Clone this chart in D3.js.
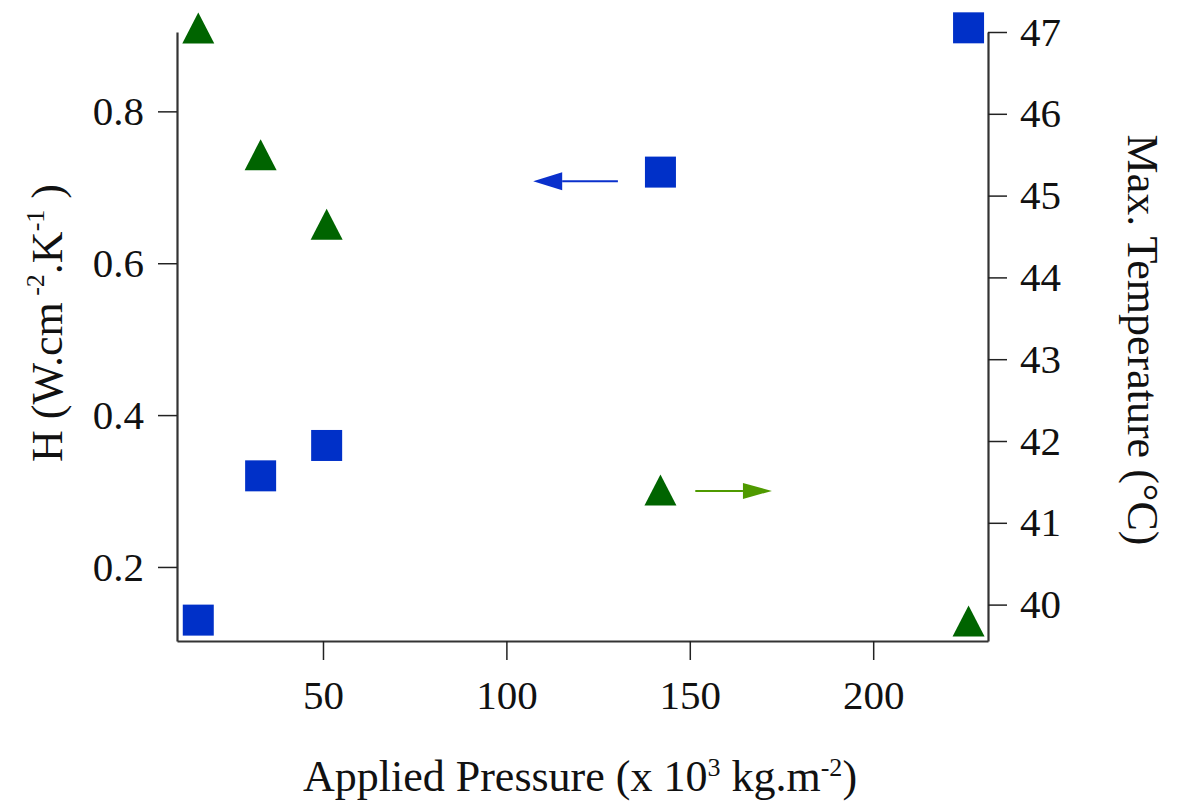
<!DOCTYPE html>
<html><head><meta charset="utf-8">
<script src="https://cdn.jsdelivr.net/npm/d3@7"></script>
<style>
html,body{margin:0;padding:0;background:#fff;}
svg{display:block;}
text{font-family:"Liberation Serif","Times New Roman",serif;fill:#111;}
</style></head>
<body>
<svg id="chart" width="1182" height="808"></svg>
<script>
// Data
const pressure = [16, 33, 51, 142, 226];
const hValues = [0.13, 0.32, 0.36, 0.72, 0.91];
const maxTemp = [47.05, 45.5, 44.65, 41.4, 39.8];
const xTicks = [50, 100, 150, 200];
const hTicks = [0.2, 0.4, 0.6, 0.8];
const tTicks = [40, 41, 42, 43, 44, 45, 46, 47];
// annotation arrows (data units)
const blueArrow = {x1: 130.4, x2: 107.3, y: 0.708};
const greenArrow = {x1: 151.5, x2: 172.4, y: 41.39};

const svg = d3.select("#chart");
const L = 177, R = 988, T = 32, B = 641;

const x = d3.scaleLinear().domain([10.2, 231.3]).range([L, R]);
const yH = d3.scaleLinear().domain([0.1025, 0.9045]).range([B, T]);
const yT = d3.scaleLinear().domain([39.555, 47.0]).range([B, T]);

const axisColor = "#333";
const fs = 41;
const tfs = 44;

// bottom axis
const gx = svg.append("g").attr("transform", `translate(0,${B})`)
  .call(d3.axisBottom(x).tickValues(xTicks).tickSize(19).tickPadding(20).tickSizeOuter(0));
// left axis
const gl = svg.append("g").attr("transform", `translate(${L},0)`)
  .call(d3.axisLeft(yH).tickValues(hTicks).tickSize(19).tickPadding(14).tickSizeOuter(0).tickFormat(d3.format(".1f")));
// right axis
const gr = svg.append("g").attr("transform", `translate(${R},0)`)
  .call(d3.axisRight(yT).tickValues(tTicks).tickSize(19).tickPadding(13).tickSizeOuter(0));

[gx, gl, gr].forEach(g => {
  g.selectAll("path.domain").attr("stroke", axisColor).attr("stroke-width", 2.2);
  g.selectAll(".tick line").attr("stroke", "#222").attr("stroke-width", 1.5);
  g.selectAll(".tick text").attr("font-family", '"Liberation Serif", serif').attr("font-size", fs).attr("fill", "#111");
});

// Axis titles
const xt = svg.append("text").attr("x", 580).attr("y", 791).attr("text-anchor", "middle").attr("font-size", tfs);
xt.append("tspan").text("Applied Pressure (x 10");
xt.append("tspan").attr("font-size", 26).attr("dy", -15).text("3");
xt.append("tspan").attr("dy", 15).text(" kg.m");
xt.append("tspan").attr("font-size", 26).attr("dy", -15).text("-2");
xt.append("tspan").attr("dy", 15).text(")");

const lt = svg.append("text").attr("transform", "translate(62,323) rotate(-90)").attr("text-anchor", "middle").attr("font-size", tfs);
lt.append("tspan").text("H (W.cm");
lt.append("tspan").attr("font-size", 26).attr("dy", -18).text(" -2");
lt.append("tspan").attr("dy", 18).text(".K");
lt.append("tspan").attr("font-size", 26).attr("dy", -18).text("-1");
lt.append("tspan").attr("dy", 18).text(" )");

svg.append("text").attr("transform", "translate(1128,340) rotate(90)").attr("text-anchor", "middle").attr("font-size", tfs)
  .text("Max. Temperature (°C)");

// Squares (H, left axis)
const sq = 31;
svg.append("g").selectAll("rect").data(pressure).join("rect")
  .attr("x", (d) => x(d) - sq/2)
  .attr("y", (d, i) => yH(hValues[i]) - sq/2)
  .attr("width", sq).attr("height", sq)
  .attr("fill", "#0030c8");

// Triangles (temperature, right axis)
const tw = 32, th = 31;
svg.append("g").selectAll("path").data(pressure).join("path")
  .attr("d", (d, i) => {
    const cx = x(d), cy = yT(maxTemp[i]);
    return `M${cx},${cy - th/2}L${cx - tw/2},${cy + th/2}L${cx + tw/2},${cy + th/2}Z`;
  })
  .attr("fill", "#006400");

// Arrows
function arrow(x1, x2, yy, color, hl, hh) {
  const dir = Math.sign(x2 - x1);
  svg.append("line").attr("x1", x1).attr("x2", x2 - dir*hl).attr("y1", yy).attr("y2", yy)
    .attr("stroke", color).attr("stroke-width", 2);
  svg.append("path").attr("d", `M${x2},${yy}L${x2 - dir*hl},${yy - hh}L${x2 - dir*hl},${yy + hh}Z`).attr("fill", color);
}
arrow(x(blueArrow.x1), x(blueArrow.x2), yH(blueArrow.y), "#0a30cc", 29, 9);
arrow(x(greenArrow.x1), x(greenArrow.x2), yT(greenArrow.y), "#4f9a00", 29, 8);
</script>
</body></html>
